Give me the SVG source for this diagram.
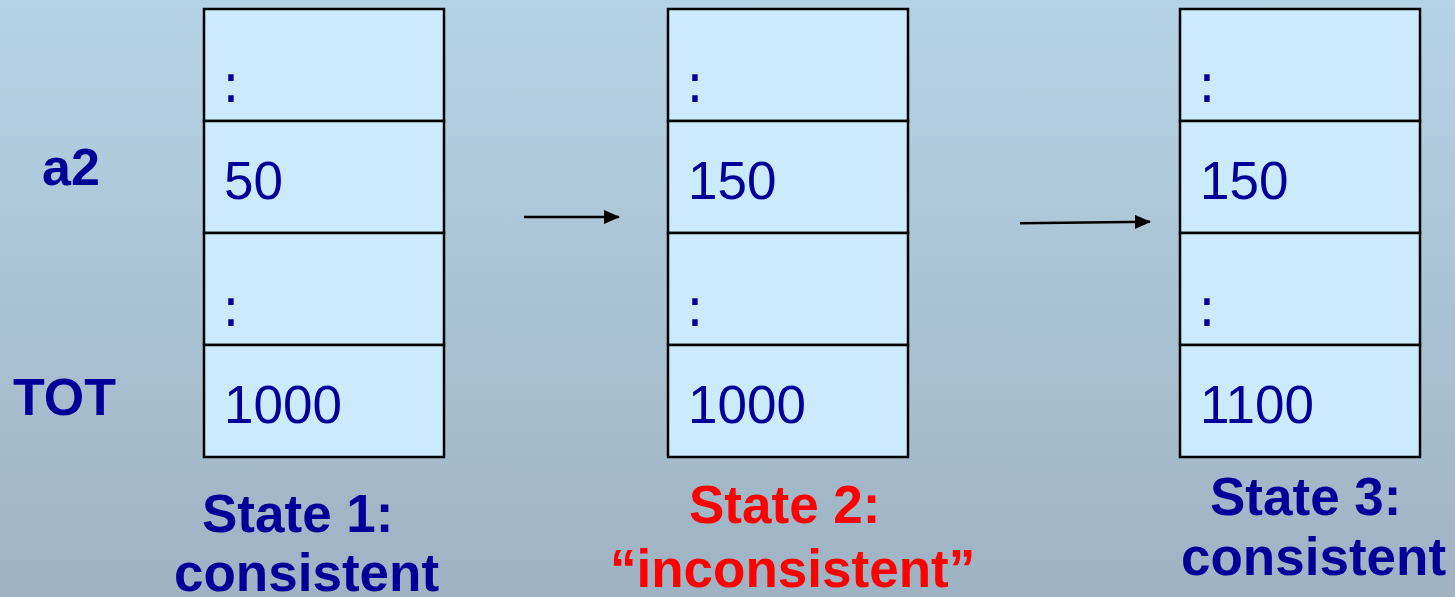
<svg xmlns="http://www.w3.org/2000/svg" width="1455" height="597" viewBox="0 0 1455 597">
<defs>
<linearGradient id="bg" x1="0" y1="0" x2="0" y2="1">
<stop offset="0" stop-color="#b6d3e5"/>
<stop offset="1" stop-color="#9eb3c3"/>
</linearGradient>
<marker id="ah" viewBox="0 0 16 14" refX="15" refY="7" markerWidth="16" markerHeight="14" markerUnits="userSpaceOnUse" orient="auto">
<path d="M0,0 L16,7 L0,14 Z" fill="#000"/>
</marker>
<style>
.cell{fill:#cbebfd;stroke:#000;stroke-width:2.5}
.val{font-family:"Liberation Sans",Arial,sans-serif;font-size:53px;fill:#000099}
.col{font-family:"DejaVu Sans",Verdana,sans-serif;font-size:53px;fill:#000099}
.lab{font-family:"Liberation Sans",Arial,sans-serif;font-size:52px;font-weight:bold;fill:#000099}
.st{font-family:"Liberation Sans",Arial,sans-serif;font-size:53px;font-weight:bold;fill:#000099}
.red{fill:#ff0000}
.conn{stroke:#000;stroke-width:2.5;fill:none;marker-end:url(#ah)}
</style>
</defs>
<rect x="0" y="0" width="1455" height="597" fill="url(#bg)"/>

<g id="row-labels">
<text class="lab" x="42" y="185">a2</text>
<text class="lab" x="13" y="415">TOT</text>
</g>

<g id="state1">
<rect class="cell" x="204" y="9" width="240" height="112"/>
<rect class="cell" x="204" y="121" width="240" height="112"/>
<rect class="cell" x="204" y="233" width="240" height="112"/>
<rect class="cell" x="204" y="345" width="240" height="112"/>
<text class="col" x="222" y="102">:</text>
<text class="val" x="224" y="199">50</text>
<text class="col" x="222" y="326">:</text>
<text class="val" x="224" y="423">1000</text>
<text class="st" x="202" y="532">State 1:</text>
<text class="st" x="174" y="591">consistent</text>
</g>

<g id="state2">
<rect class="cell" x="668" y="9" width="240" height="112"/>
<rect class="cell" x="668" y="121" width="240" height="112"/>
<rect class="cell" x="668" y="233" width="240" height="112"/>
<rect class="cell" x="668" y="345" width="240" height="112"/>
<text class="col" x="686" y="102">:</text>
<text class="val" x="688" y="199">150</text>
<text class="col" x="686" y="326">:</text>
<text class="val" x="688" y="423">1000</text>
<text class="st red" x="689" y="523">State 2:</text>
<text class="st red" x="610" y="587">“inconsistent”</text>
</g>

<g id="state3">
<rect class="cell" x="1180" y="9" width="240" height="112"/>
<rect class="cell" x="1180" y="121" width="240" height="112"/>
<rect class="cell" x="1180" y="233" width="240" height="112"/>
<rect class="cell" x="1180" y="345" width="240" height="112"/>
<text class="col" x="1198" y="102">:</text>
<text class="val" x="1200" y="199">150</text>
<text class="col" x="1198" y="326">:</text>
<text class="val" x="1200" y="423">1100</text>
<text class="st" x="1210" y="515">State 3:</text>
<text class="st" x="1181" y="575">consistent</text>
</g>

<g id="connectors">
<line class="conn" x1="524" y1="217" x2="619" y2="217"/>
<line class="conn" x1="1020" y1="223.3" x2="1150" y2="221.7"/>
</g>
</svg>
